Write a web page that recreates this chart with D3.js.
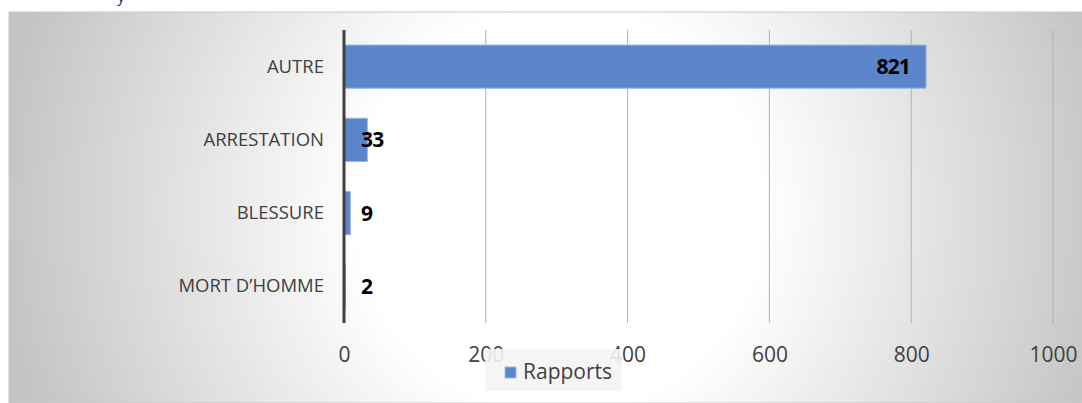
<!DOCTYPE html>
<html><head><meta charset="utf-8">
<script src="https://cdn.jsdelivr.net/npm/d3@7"></script>
<style>body{margin:0;background:#fff;overflow:hidden}svg{display:block}</style>
</head><body>
<script>
const categories = ["AUTRE", "ARRESTATION", "BLESSURE", "MORT D\u2019HOMME"];
const values = [821, 33, 9, 2];
const xTicks = [0, 200, 400, 600, 800, 1000];
const seriesName = "Rapports";

const FONT = "'Open Sans', 'Noto Sans', sans-serif";
const W = 1082, H = 403;
const svg = d3.select("body").append("svg").attr("width", W).attr("height", H);
const defs = svg.append("defs");
const grad = defs.append("radialGradient").attr("id", "bg")
  .attr("gradientUnits", "userSpaceOnUse").attr("cx", 560).attr("cy", 210).attr("r", 560);
grad.append("stop").attr("offset", 0).attr("stop-color", "#ffffff");
grad.append("stop").attr("offset", 0.36).attr("stop-color", "#ffffff");
grad.append("stop").attr("offset", 1).attr("stop-color", "#c4c4c4");

// cut-off text fragment above the chart
svg.append("text").attr("x", 117).attr("y", 2).attr("font-family", FONT)
  .attr("font-size", 16).attr("fill", "#1f3864").text("y");

svg.append("rect").attr("x", 9).attr("y", 12).attr("width", W - 9).attr("height", H - 12)
  .attr("fill", "url(#bg)").attr("stroke", "#c8c8c8").attr("stroke-width", 1);

const x = d3.scaleLinear().domain([0, 1000]).range([344, 1053]);
const y = d3.scaleBand().domain(categories).range([30, 323]).paddingInner(0.41).paddingOuter(0.205);

// gridlines
svg.append("g").selectAll("line").data(xTicks.filter(t => t > 0)).join("line")
  .attr("x1", d => x(d)).attr("x2", d => x(d)).attr("y1", 30).attr("y2", 323)
  .attr("stroke", "#b0b0b0").attr("stroke-width", 1);

// bars
svg.append("g").selectAll("rect").data(values).join("rect")
  .attr("x", x(0)).attr("y", (d, i) => y(categories[i]))
  .attr("width", d => x(d) - x(0)).attr("height", y.bandwidth())
  .attr("fill", "#5b86cb").attr("stroke", "#9fb7e0").attr("stroke-width", 1);

// x axis tick labels
const xAxis = d3.axisBottom(x).tickValues(xTicks).tickFormat(d3.format("d")).tickSize(0).tickPadding(0);
const gx = svg.append("g").attr("transform", "translate(0,362)").call(xAxis);
gx.select(".domain").remove();
gx.selectAll("text").attr("font-family", FONT).attr("font-size", 21)
  .attr("fill", "#404040").attr("y", 0).attr("dy", "0");

// y axis
const yAxis = d3.axisLeft(y).tickSize(0).tickPadding(20);
const gy = svg.append("g").attr("transform", `translate(${x(0)},0)`).call(yAxis);
gy.select(".domain").remove();
gy.selectAll("text").attr("font-family", FONT).attr("font-size", 18.5)
  .attr("fill", "#404040");
svg.append("line").attr("x1", x(0)).attr("x2", x(0)).attr("y1", 30).attr("y2", 323)
  .attr("stroke", "#404040").attr("stroke-width", 3);

// value labels
svg.append("g").selectAll("text").data(values).join("text")
  .attr("x", d => d > 500 ? x(d) - 16 : x(0) + 17)
  .attr("y", (d, i) => y(categories[i]) + y.bandwidth() / 2)
  .attr("dy", "0.36em")
  .attr("text-anchor", d => d > 500 ? "end" : "start")
  .attr("font-family", FONT).attr("font-size", 21).attr("font-weight", "bold")
  .attr("letter-spacing", -0.8)
  .attr("fill", "#000").text(d => d);

// legend
const lg = svg.append("g");
lg.append("rect").attr("x", 485).attr("y", 349).attr("width", 137).attr("height", 42)
  .attr("fill", "#f4f4f4").attr("opacity", 0.9);
lg.append("rect").attr("x", 505).attr("y", 367).attr("width", 11).attr("height", 11)
  .attr("fill", "#5b86cb").attr("stroke", "#9fb7e0");
lg.append("text").attr("x", 523).attr("y", 379)
  .attr("font-family", FONT).attr("font-size", 21).attr("fill", "#404040")
  .text(seriesName);
</script>
</body></html>
